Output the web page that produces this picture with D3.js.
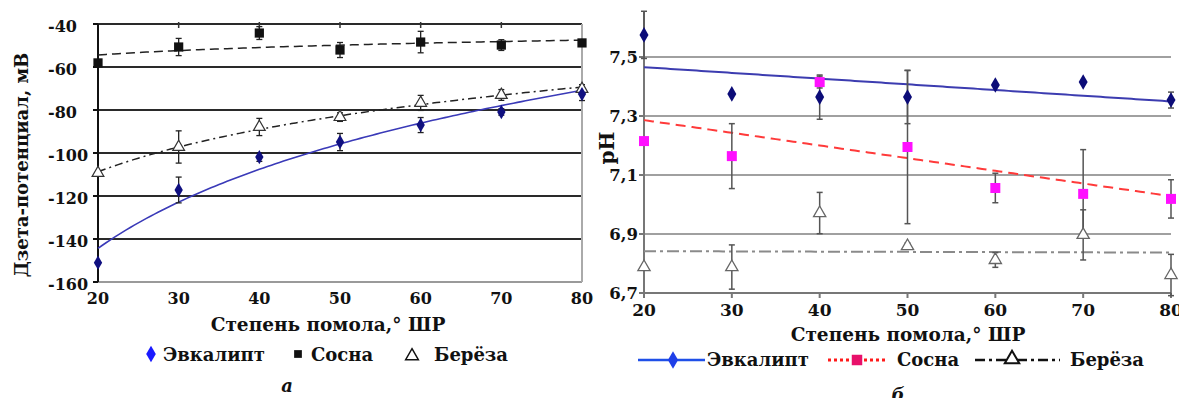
<!DOCTYPE html>
<html>
<head>
<meta charset="utf-8">
<script src="https://cdn.jsdelivr.net/npm/d3@7"></script>
<style>
  body { margin: 0; background: #fff; }
  svg text { font-family: "DejaVu Serif", serif; font-weight: bold; fill: #111; }
</style>
</head>
<body>
<svg id="chart" width="1179" height="398"></svg>
<script>
// degree of grinding, ° ШР
var grind = [20, 30, 40, 50, 60, 70, 80];

// (а) zeta potential, mV
var zetaEuc = [-151, -117.2, -101.9, -94.9, -87, -80.9, -72.6];
var zetaEucErr = [0, 6, 2, 4, 3.5, 1.5, 3];
var zetaPine = [-58.1, -50.7, -44.2, -52.1, -48.4, -49.8, -48.8];
var zetaPineErr = [0, 4, 3, 3.5, 5, 2.5, 1];
var zetaBirch = [-109.3, -97.2, -87.9, -83.3, -76.7, -73, -70.2];
var zetaBirchErr = [0, 7.5, 4, 2, 3.5, 2.5, 2];
var zetaTicks = [-160, -140, -120, -100, -80, -60, -40];

// (б) pH
var phEuc = [7.575, 7.375, 7.364, 7.364, 7.405, 7.415, 7.354];
var phEucErr = [0.08, 0, 0.075, 0.09, 0, 0, 0.027];
var phPine = [7.215, 7.164, 7.415, 7.195, 7.056, 7.036, 7.019];
var phPineErr = [0, 0.11, 0.02, 0.26, 0.05, 0.15, 0.065];
var phBirch = [6.788, 6.788, 6.971, 6.859, 6.812, 6.897, 6.761];
var phBirchErr = [0, 0.075, 0.07, 0.01, 0.025, 0.085, 0.07];
var phTicks = [6.7, 6.9, 7.1, 7.3, 7.5];

var names = ["Эвкалипт", "Сосна", "Берёза"];

var svg = d3.select("#chart");

// least squares fit y = a + b*f(x)
function fit(xs, ys, f) {
  var fx = xs.map(f);
  var mx = d3.mean(fx), my = d3.mean(ys);
  var sxy = d3.sum(fx, function(v, i) { return (v - mx) * (ys[i] - my); });
  var sxx = d3.sum(fx, function(v) { return (v - mx) * (v - mx); });
  var b = sxy / sxx, a = my - b * mx;
  return function(x) { return a + b * f(x); };
}

var diamond = d3.symbol().type(d3.symbolDiamond);
var square = d3.symbol().type(d3.symbolSquare);
var triangle = d3.symbol().type(d3.symbolTriangle);

function errorBars(g, x, y, vals, errs, color, w) {
  grind.forEach(function(gx, i) {
    if (!errs[i]) return;
    var x0 = x(gx), y1 = y(vals[i] + errs[i]), y2 = y(vals[i] - errs[i]);
    g.append("line").attr("x1", x0).attr("x2", x0).attr("y1", y1).attr("y2", y2)
      .attr("stroke", color).attr("stroke-width", w);
    [y1, y2].forEach(function(yy) {
      g.append("line").attr("x1", x0 - 3).attr("x2", x0 + 3).attr("y1", yy).attr("y2", yy)
        .attr("stroke", color).attr("stroke-width", w);
    });
  });
}

function markers(g, x, y, vals, sym, size, fill, stroke, sw) {
  g.selectAll(null).data(vals).enter().append("path")
    .attr("d", sym.size(size)())
    .attr("transform", function(d, i) { return "translate(" + x(grind[i]) + "," + y(d) + ")"; })
    .attr("fill", fill).attr("stroke", stroke || "none").attr("stroke-width", sw || 0);
}

function trend(g, x, y, f, color, dash, w) {
  var xs = d3.range(20, 80.5, 0.5);
  g.append("path").datum(xs)
    .attr("d", d3.line().x(function(d) { return x(d); }).y(function(d) { return y(f(d)); }))
    .attr("fill", "none").attr("stroke", color).attr("stroke-width", w)
    .attr("stroke-dasharray", dash);
}

// ---------- chart а ----------
var xa = d3.scaleLinear().domain([20, 80]).range([98, 582]);
var ya = d3.scaleLinear().domain([-160, -40]).range([282, 24]);
var ga = svg.append("g");

zetaTicks.forEach(function(t) {
  ga.append("line").attr("x1", xa(20)).attr("x2", xa(80)).attr("y1", ya(t)).attr("y2", ya(t))
    .attr("stroke", t === -160 ? "#9a9a9a" : "#2a2a2a").attr("stroke-width", 2);
  ga.append("line").attr("x1", xa(20) - 5).attr("x2", xa(20)).attr("y1", ya(t)).attr("y2", ya(t))
    .attr("stroke", "#111").attr("stroke-width", 2);
  ga.append("text").attr("x", 48).attr("y", ya(t) + 8).attr("font-size", 16)
    .text(t < 0 ? "-" + Math.abs(t) : t);
});
ga.append("line").attr("x1", xa(80)).attr("x2", xa(80)).attr("y1", ya(-40)).attr("y2", ya(-160))
  .attr("stroke", "#aaa").attr("stroke-width", 2);
ga.append("line").attr("x1", xa(20)).attr("x2", xa(20)).attr("y1", ya(-40)).attr("y2", ya(-160))
  .attr("stroke", "#111").attr("stroke-width", 2);
grind.forEach(function(gx) {
  if (gx > 20 && gx < 80)
    ga.append("line").attr("x1", xa(gx)).attr("x2", xa(gx)).attr("y1", ya(-40) - 2).attr("y2", ya(-40) + 4)
      .attr("stroke", "#333").attr("stroke-width", 1.5);
  ga.append("text").attr("x", xa(gx)).attr("y", 304).attr("text-anchor", "middle")
    .attr("font-size", 16).text(gx);
});

var lnf = function(v) { return Math.log(v); };
trend(ga, xa, ya, fit(grind, zetaPine, lnf), "#222", "9,5", 1.5);
trend(ga, xa, ya, fit(grind, zetaBirch, lnf), "#222", "8,4,2,4", 1.5);
trend(ga, xa, ya, fit(grind, zetaEuc, lnf), "#3a3ab8", null, 1.6);

errorBars(ga, xa, ya, zetaPine, zetaPineErr, "#222", 1.3);
errorBars(ga, xa, ya, zetaBirch, zetaBirchErr, "#222", 1.3);
errorBars(ga, xa, ya, zetaEuc, zetaEucErr, "#222", 1.3);

markers(ga, xa, ya, zetaPine, square, 85, "#111");
markers(ga, xa, ya, zetaBirch, triangle, 60, "#fff", "#333", 1.2);
markers(ga, xa, ya, zetaEuc, diamond, 60, "#101080");

ga.append("text").attr("transform", "translate(28,165) rotate(-90)").attr("text-anchor", "middle")
  .attr("font-size", 18).text("Дзета-потенциал, мВ");
ga.append("text").attr("x", 328).attr("y", 331).attr("text-anchor", "middle")
  .attr("font-size", 18.5).text("Степень помола,° ШР");

// legend а
ga.append("path").attr("d", diamond.size(80)()).attr("transform", "translate(151,354)").attr("fill", "#1a1aff");
ga.append("text").attr("x", 163).attr("y", 361).attr("font-size", 18).text(names[0]);
ga.append("path").attr("d", square.size(60)()).attr("transform", "translate(298,354)").attr("fill", "#111");
ga.append("text").attr("x", 311).attr("y", 361).attr("font-size", 18).text(names[1]);
ga.append("path").attr("d", triangle.size(70)()).attr("transform", "translate(412,356)")
  .attr("fill", "#fff").attr("stroke", "#111").attr("stroke-width", 1.5);
ga.append("text").attr("x", 434).attr("y", 361).attr("font-size", 18).text(names[2]);
ga.append("text").attr("x", 287).attr("y", 392).attr("text-anchor", "middle").attr("font-size", 18)
  .attr("font-style", "italic").text("а");

// ---------- chart б ----------
var xb = d3.scaleLinear().domain([20, 80]).range([644, 1171]);
var yb = d3.scaleLinear().domain([6.7, 7.7]).range([293, -2]);
var gb = svg.append("g");
var fmt = function(v) { return d3.format(".1f")(v).replace(".", ","); };

phTicks.forEach(function(t) {
  if (t > 6.7)
    gb.append("line").attr("x1", xb(20)).attr("x2", xb(80)).attr("y1", yb(t)).attr("y2", yb(t))
      .attr("stroke", "#a0a0a0").attr("stroke-width", 2);
  gb.append("line").attr("x1", xb(20) - 5).attr("x2", xb(20)).attr("y1", yb(t)).attr("y2", yb(t))
    .attr("stroke", "#777").attr("stroke-width", 2);
  gb.append("text").attr("x", 638).attr("y", yb(t) + 6).attr("text-anchor", "end")
    .attr("font-size", 16.5).text(fmt(t));
});
gb.append("line").attr("x1", xb(20)).attr("x2", xb(80)).attr("y1", yb(6.7)).attr("y2", yb(6.7))
  .attr("stroke", "#777").attr("stroke-width", 2);
gb.append("line").attr("x1", xb(20)).attr("x2", xb(20)).attr("y1", yb(6.7)).attr("y2", yb(phEuc[0] + phEucErr[0]))
  .attr("stroke", "#777").attr("stroke-width", 2);
grind.forEach(function(gx) {
  gb.append("line").attr("x1", xb(gx)).attr("x2", xb(gx)).attr("y1", yb(6.7)).attr("y2", yb(6.7) + 5)
    .attr("stroke", "#777").attr("stroke-width", 2);
  gb.append("text").attr("x", xb(gx)).attr("y", 316).attr("text-anchor", "middle")
    .attr("font-size", 17).text(gx);
});

var lin = function(v) { return v; };
trend(gb, xb, yb, fit(grind, phBirch, lin), "#8a8a8a", "12,4,3,4", 2);
trend(gb, xb, yb, fit(grind, phPine, lin), "#ff3a3a", "10,6", 2);
trend(gb, xb, yb, fit(grind, phEuc, lin), "#3c3cb0", null, 2);

errorBars(gb, xb, yb, phEuc, phEucErr, "#555", 1.5);
errorBars(gb, xb, yb, phPine, phPineErr, "#555", 1.5);
errorBars(gb, xb, yb, phBirch, phBirchErr, "#555", 1.5);

markers(gb, xb, yb, phBirch, triangle, 65, "#fff", "#666", 1.3);
markers(gb, xb, yb, phPine, square, 100, "#ff10ff");
markers(gb, xb, yb, phEuc, diamond, 70, "#0c0c78");

gb.append("text").attr("transform", "translate(614,148) rotate(-90)").attr("text-anchor", "middle")
  .attr("font-size", 20).text("pH");
gb.append("text").attr("x", 908).attr("y", 341).attr("text-anchor", "middle")
  .attr("font-size", 18.5).text("Степень помола,° ШР");

// legend б
gb.append("line").attr("x1", 638).attr("x2", 705).attr("y1", 360).attr("y2", 360)
  .attr("stroke", "#1f4fe8").attr("stroke-width", 2.5);
gb.append("path").attr("d", diamond.size(90)()).attr("transform", "translate(673,360)").attr("fill", "#1f3fe8");
gb.append("text").attr("x", 707).attr("y", 366).attr("font-size", 18).text(names[0]);
gb.append("line").attr("x1", 828).attr("x2", 888).attr("y1", 360).attr("y2", 360)
  .attr("stroke", "#ff1a1a").attr("stroke-width", 3).attr("stroke-dasharray", "3,3");
gb.append("path").attr("d", square.size(110)()).attr("transform", "translate(857,360)").attr("fill", "#e8106a");
gb.append("text").attr("x", 897).attr("y", 366).attr("font-size", 18).text(names[1]);
gb.append("line").attr("x1", 975).attr("x2", 1060).attr("y1", 360).attr("y2", 360)
  .attr("stroke", "#111").attr("stroke-width", 2.5).attr("stroke-dasharray", "10,4,3,4");
gb.append("path").attr("d", triangle.size(90)()).attr("transform", "translate(1012,359)")
  .attr("fill", "#fff").attr("stroke", "#111").attr("stroke-width", 2);
gb.append("text").attr("x", 1070).attr("y", 366).attr("font-size", 18).text(names[2]);
gb.append("text").attr("x", 898).attr("y", 401).attr("text-anchor", "middle").attr("font-size", 18)
  .attr("font-style", "italic").text("б");
</script>
</body>
</html>
